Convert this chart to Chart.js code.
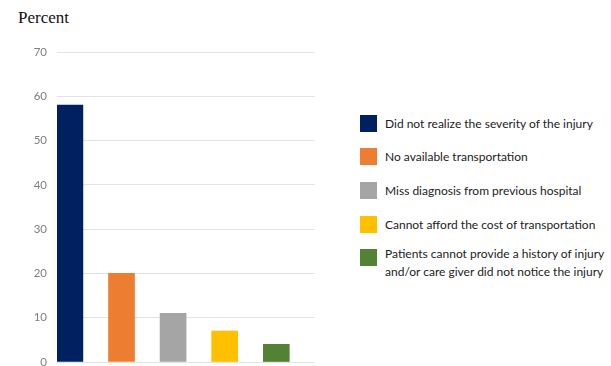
<!DOCTYPE html>
<html>
<head>
<meta charset="utf-8">
<script src="https://cdn.jsdelivr.net/npm/chart.js@4"></script>
<style>
  html, body { margin: 0; padding: 0; background: #fff; overflow: hidden; }
  #wrap { position: relative; width: 611px; height: 366px; overflow: hidden; }
  #title { position: absolute; left: 18px; top: 8px; font: 17px "Liberation Serif", "Times New Roman", serif; color: #111; }
  #chartBox { position: absolute; left: 0; top: 0; width: 330px; height: 380px; }
  #legend { position: absolute; left: 360px; top: 115px; font: 12px Lato, "Liberation Sans", sans-serif; color: #222; }
  .item { position: absolute; padding-left: 25px; line-height: 18px; white-space: nowrap; }
  .item .box { position: absolute; left: 0; top: 0; width: 17px; height: 17px; }
</style>
</head>
<body>
<div id="wrap">
  <div id="title">Percent</div>
  <div id="chartBox"><canvas id="reasons"></canvas></div>
  <div id="legend"></div>
</div>
<script>
const categories = [
  "Did not realize the severity of the injury",
  "No available transportation",
  "Miss diagnosis from previous hospital",
  "Cannot afford the cost of transportation",
  "Patients cannot provide a history of injury\nand/or care giver did not notice the injury"
];
const percents = [58, 20, 11, 7, 4];
const colors = ["#002060", "#ED7D31", "#A5A5A5", "#FFC000", "#548235"];
const yTicks = [0, 10, 20, 30, 40, 50, 60, 70];

// legend rows, top offsets relative to first box
const legendTops = [0, 33, 67, 101, 134];
const legend = document.getElementById("legend");
categories.forEach((c, i) => {
  const row = document.createElement("div");
  row.className = "item";
  const box = document.createElement("span");
  box.className = "box";
  box.style.background = colors[i];
  row.appendChild(box);
  const lines = c.split("\n");
  lines.forEach((line, k) => {
    if (k > 0) row.appendChild(document.createElement("br"));
    row.appendChild(document.createTextNode(line));
  });
  row.style.top = (legendTops[i] - (lines.length > 1 ? 4 : 0)) + "px";
  if (lines.length > 1) box.style.top = "4px";
  legend.appendChild(row);
});

const ctx = document.getElementById("reasons");
new Chart(ctx, {
  type: "bar",
  data: {
    datasets: [{
      data: percents.map((v, i) => ({ x: i + 0.25, y: v })),
      backgroundColor: colors,
      barThickness: 26,
      borderWidth: 0
    }]
  },
  options: {
    responsive: true,
    maintainAspectRatio: false,
    animation: false,
    layout: { padding: { left: 0, right: 15, top: 52, bottom: 18 } },
    plugins: { legend: { display: false }, tooltip: { enabled: false } },
    scales: {
      x: { type: "linear", min: 0, max: 5, offset: false, display: false },
      y: {
        min: 0,
        max: 70,
        afterFit: (scale) => { scale.width = 57; },
        afterBuildTicks: (scale) => { scale.ticks = yTicks.map(v => ({ value: v })); },
        border: { display: false },
        grid: { color: "#e3e3e3", drawTicks: false },
        ticks: { padding: 10, color: "#7f7f7f", font: { family: "Lato", size: 11.5 } }
      }
    }
  }
});
</script>
</body>
</html>
